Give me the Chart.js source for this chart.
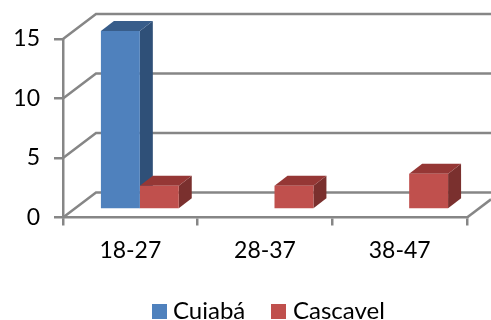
<!DOCTYPE html>
<html>
<head>
<meta charset="utf-8">
<style>html,body{margin:0;padding:0;background:#fff}canvas{display:block}</style>
<script src="https://cdn.jsdelivr.net/npm/chart.js@4"></script>
</head>
<body>
<canvas id="c" width="491" height="320"></canvas>
<script>
const categories = ['18-27', '28-37', '38-47'];
const cuiaba = [15, null, null];
const cascavel = [2, 2, 3];
const yTicks = [0, 5, 10, 15];

const AXIS = '#868686';
const FONT = 'Lato, Carlito, sans-serif';
const faces = [
  { top: '#385D8A', side: '#2F5078' },
  { top: '#953735', side: '#7A302E' }
];

// Pseudo-3D box: the walls sit behind the axes, the bars stand mid-floor.
const wall = { dx: 33, dy: -25 };
const barShift = { dx: 9.5, dy: -8 };
const barDepth = { dx: 13, dy: -10 };

function line(ctx, pts) {
  ctx.beginPath();
  pts.forEach((p, i) => i ? ctx.lineTo(p[0], p[1]) : ctx.moveTo(p[0], p[1]));
  ctx.stroke();
}
function poly(ctx, pts, fill) {
  ctx.fillStyle = fill;
  ctx.beginPath();
  pts.forEach((p, i) => i ? ctx.lineTo(p[0], p[1]) : ctx.moveTo(p[0], p[1]));
  ctx.closePath();
  ctx.fill();
}

const box3d = {
  id: 'box3d',
  beforeDatasetsDraw(chart) {
    const { ctx, chartArea: a, scales: { x, y } } = chart;
    ctx.save();
    ctx.strokeStyle = AXIS;
    ctx.lineWidth = 2.5;
    yTicks.forEach(v => {
      const py = y.getPixelForValue(v);
      line(ctx, [[a.left, py], [a.left + wall.dx, py + wall.dy], [chart.width, py + wall.dy]]);
    });
    const floor = y.getPixelForValue(0);
    line(ctx, [[a.right, floor], [chart.width, floor + (chart.width - a.right) * wall.dy / wall.dx]]);
    ctx.restore();

    // Shift the bars onto the floor; undone once the datasets are drawn.
    ctx.save();
    ctx.translate(barShift.dx, barShift.dy);
    chart.data.datasets.forEach((ds, i) => {
      chart.getDatasetMeta(i).data.forEach((bar, j) => {
        if (ds.data[j] == null) return;
        const l = bar.x - bar.width / 2, r = bar.x + bar.width / 2;
        const t = bar.y, b = bar.base;
        const { dx, dy } = barDepth;
        poly(ctx, [[r, t], [r + dx, t + dy], [r + dx, b + dy], [r, b]], faces[i].side);
        poly(ctx, [[l, t], [l + dx, t + dy], [r + dx, t + dy], [r, t]], faces[i].top);
      });
    });
  },
  afterDatasetsDraw(chart) {
    chart.ctx.restore();
  },
  // Legend row along the bottom edge, tighter than the built-in layout allows.
  afterDraw(chart) {
    const { ctx } = chart;
    const row = [{ box: 152, text: 173 }, { box: 271, text: 293 }];
    ctx.save();
    ctx.font = '24px ' + FONT;
    ctx.textBaseline = 'middle';
    chart.data.datasets.forEach((ds, i) => {
      ctx.fillStyle = ds.backgroundColor;
      ctx.fillRect(row[i].box, 304, 15, 15);
      ctx.fillStyle = '#000';
      ctx.fillText(ds.label, row[i].text, 311);
    });
    ctx.restore();
  }
};

new Chart(document.getElementById('c'), {
  type: 'bar',
  data: {
    labels: categories,
    datasets: [
      { label: 'Cuiabá', data: cuiaba, backgroundColor: '#4F81BD', clip: false },
      { label: 'Cascavel', data: cascavel, backgroundColor: '#C0504D', clip: false }
    ]
  },
  plugins: [box3d],
  options: {
    responsive: false,
    animation: false,
    events: [],
    barPercentage: 1,
    categoryPercentage: 0.578,
    layout: { padding: { top: 39, right: 24, left: 0, bottom: 0 } },
    plugins: {
      tooltip: { enabled: false },
      legend: { display: false }
    },
    scales: {
      x: {
        afterFit(s) { s.height = 102.5; },
        border: { color: AXIS, width: 2.5 },
        grid: { drawOnChartArea: false, color: AXIS, lineWidth: 2.5, tickLength: 8 },
        ticks: { color: '#000', padding: 11, font: { family: FONT, size: 23 }, maxRotation: 0 }
      },
      y: {
        min: 0, max: 15,
        afterFit(s) { s.width = 63; },
        afterBuildTicks(s) { s.ticks = yTicks.map(value => ({ value })); },
        border: { color: AXIS, width: 2.5 },
        grid: { drawOnChartArea: false, color: AXIS, lineWidth: 2.5, tickLength: 9 },
        ticks: { color: '#000', padding: 14, font: { family: FONT, size: 23 } }
      }
    }
  }
});
</script>
</body>
</html>
